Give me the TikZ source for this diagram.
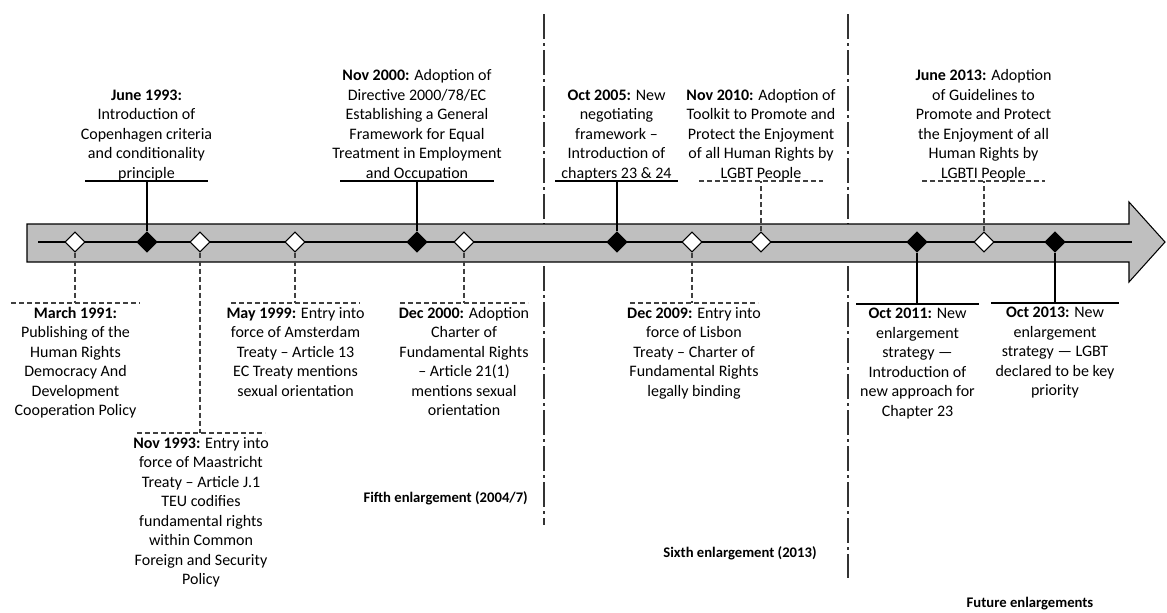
\documentclass[tikz,border=0pt]{standalone}
\usepackage{fontspec}
\setmainfont{Carlito}
\usetikzlibrary{shapes.geometric}
\begin{document}
\begin{tikzpicture}[x=0.75pt,y=-0.75pt,
	whitemark/.style={diamond, draw=black, fill=white, line width=0.8pt, inner sep=0pt, minimum width=15pt, minimum height=15pt},
	blackmark/.style={diamond, draw=black, fill=black, line width=0.8pt, inner sep=0pt, minimum width=15pt, minimum height=15pt},
	uptext/.style={inner sep=0pt, align=center, anchor=south, font=\fontsize{12}{14.6}\selectfont},
	lowtext/.style={inner xsep=0pt, inner ysep=3pt, align=center, anchor=north, font=\fontsize{12}{14.6}\selectfont},
	solidlink/.style={draw=black, line width=0.8pt},
	dashlink/.style={draw=black!75, line width=0.8pt, dash pattern=on 3.75pt off 2.25pt},
	era/.style={inner sep=0pt, font=\bfseries\fontsize{11}{13}\selectfont},
	divider/.style={draw=black!80, line width=0.8pt, dash pattern=on 18.75pt off 3pt on 2.25pt off 3pt}]
	\useasboundingbox (0,0) rectangle (1167,612);

	\draw[divider] (544,14) -- (544,525);
	\draw[divider] (848,14) -- (848,578);

	\draw[draw=black, fill=black!25, line width=0.8pt] (27,224) -- (1129,224) -- (1129,202) -- (1165,242)
		-- (1129,282) -- (1129,262) -- (27,262) -- cycle;
	\draw[line width=0.8pt] (38,242) -- (1132,242);

	\node (m91)  at (75,242)	[whitemark]	{};
	\node (m93j) at (147,242)	[blackmark]	{};
	\node (m93n) at (200,242)	[whitemark]	{};
	\node (m99)  at (295,242)	[whitemark]	{};
	\node (m00n) at (417,242)	[blackmark]	{};
	\node (m00d) at (464,242)	[whitemark]	{};
	\node (m05)  at (617,242)	[blackmark]	{};
	\node (m09)  at (692,242)	[whitemark]	{};
	\node (m10)  at (761,242)	[whitemark]	{};
	\node (m11)  at (917,242)	[blackmark]	{};
	\node (m13j) at (984,242)	[whitemark]	{};
	\node (m13o) at (1055,242)	[blackmark]	{};

	\node (t93j) at (146.5,181)	[uptext]	{\textbf{June 1993:}\\Introduction of\\Copenhagen criteria\\and conditionality\\principle};
	\node (t00n) at (417,181)	[uptext]	{\textbf{Nov 2000:} Adoption of\\Directive 2000/78/EC\\Establishing a General\\Framework for Equal\\Treatment in Employment\\and Occupation};
	\node (t05)  at (616.5,181)	[uptext]	{\textbf{Oct 2005:} New\\negotiating\\framework --\\Introduction of\\chapters 23 \& 24};
	\node (t10)  at (761,181)	[uptext]	{\textbf{Nov 2010:} Adoption of\\Toolkit to Promote and\\Protect the Enjoyment\\of all Human Rights by\\LGBT People};
	\node (t13j) at (983.5,181)	[uptext]	{\textbf{June 2013:} Adoption\\of Guidelines to\\Promote and Protect\\the Enjoyment of all\\Human Rights by\\LGBTI People};

	\node (t91)  at (75.5,303)	[lowtext]	{\textbf{March 1991:}\\Publishing of the\\Human Rights\\Democracy And\\Development\\Cooperation Policy};
	\node (t93n) at (201,433)	[lowtext]	{\textbf{Nov 1993:} Entry into\\force of Maastricht\\Treaty -- Article J.1\\TEU codifies\\fundamental rights\\within Common\\Foreign and Security\\Policy};
	\node (t99)  at (295.5,303)	[lowtext]	{\textbf{May 1999:} Entry into\\force of Amsterdam\\Treaty -- Article 13\\EC Treaty mentions\\sexual orientation};
	\node (t00d) at (464,303)	[lowtext]	{\textbf{Dec 2000:} Adoption\\Charter of\\Fundamental Rights\\-- Article 21(1)\\mentions sexual\\orientation};
	\node (t09)  at (694,303)	[lowtext]	{\textbf{Dec 2009:} Entry into\\force of Lisbon\\Treaty -- Charter of\\Fundamental Rights\\legally binding};
	\node (t11)  at (917.5,304)	[lowtext]	{\textbf{Oct 2011:} New\\enlargement\\strategy ---\\Introduction of\\new approach for\\Chapter 23};
	\node (t13o) at (1055,303)	[lowtext]	{\textbf{Oct 2013:} New\\enlargement\\strategy --- LGBT\\declared to be key\\priority};

	\node (e5) at (528,498)		[era, anchor=east]	{Fifth enlargement (2004/7)};
	\node (e6) at (740,553)		[era]	{Sixth enlargement (2013)};
	\node (ef) at (1030,604)	[era]	{Future enlargements};

	\draw[solidlink] (m93j) -- (m93j |- t93j.south);
	\draw[solidlink] (t93j.south) ++(-61.5,0) -- ++(123,0);
	\draw[solidlink] (m00n) -- (m00n |- t00n.south);
	\draw[solidlink] (t00n.south) ++(-77,0) -- ++(154,0);
	\draw[solidlink] (m05) -- (m05 |- t05.south);
	\draw[solidlink] (t05.south) ++(-61.5,0) -- ++(123,0);
	\draw[dashlink] (m10) -- (m10 |- t10.south);
	\draw[dashlink] (t10.south) ++(-62,0) -- ++(124,0);
	\draw[dashlink] (m13j) -- (m13j |- t13j.south);
	\draw[dashlink] (t13j.south) ++(-61.5,0) -- ++(123,0);

	\draw[dashlink] (m91) -- (m91 |- t91.north);
	\draw[dashlink] (t91.north) ++(-64.5,0) -- ++(129,0);
	\draw[dashlink] (m93n) -- (m93n |- t93n.north);
	\draw[dashlink] (t93n.north) ++(-64,0) -- ++(128,0);
	\draw[dashlink] (m99) -- (m99 |- t99.north);
	\draw[dashlink] (t99.north) ++(-64.5,0) -- ++(129,0);
	\draw[dashlink] (m00d) -- (m00d |- t00d.north);
	\draw[dashlink] (t00d.north) ++(-64,0) -- ++(128,0);
	\draw[dashlink] (m09) -- (m09 |- t09.north);
	\draw[dashlink] (t09.north) ++(-64,0) -- ++(128,0);
	\draw[solidlink] (m11) -- (m11 |- t11.north);
	\draw[solidlink] (t11.north) ++(-61.5,0) -- ++(123,0);
	\draw[solidlink] (m13o) -- (m13o |- t13o.north);
	\draw[solidlink] (t13o.north) ++(-64,0) -- ++(128,0);
\end{tikzpicture}
\end{document}
